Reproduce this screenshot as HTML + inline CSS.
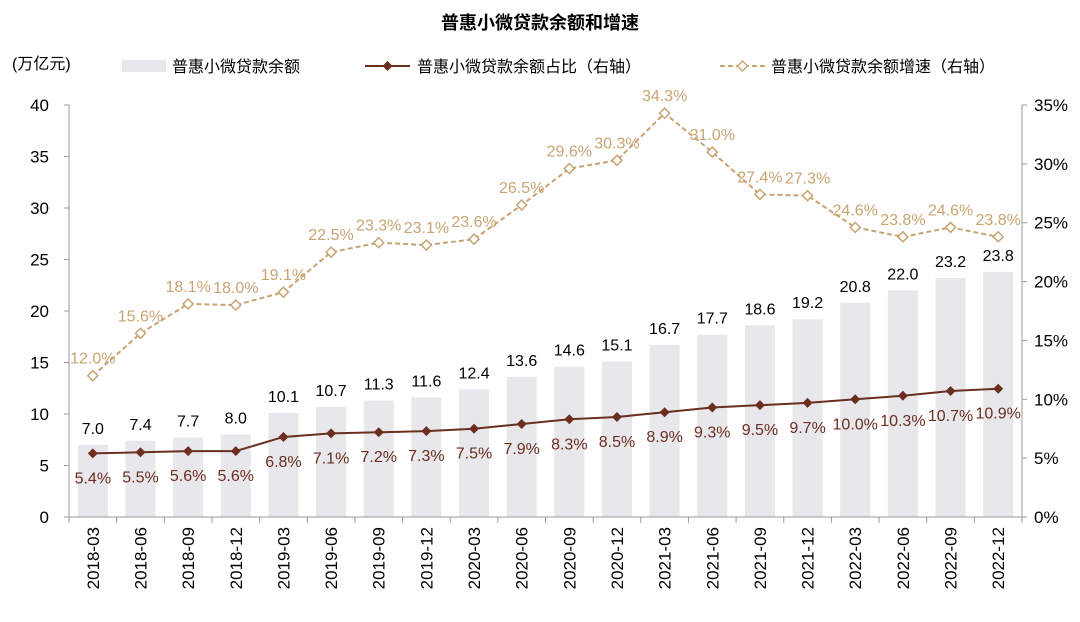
<!DOCTYPE html>
<html><head><meta charset="utf-8"><style>
body{margin:0;background:#fff;font-family:"Liberation Sans","Noto Sans CJK SC",sans-serif;}
svg text{font-family:"Liberation Sans","Noto Sans CJK SC",sans-serif;}
</style></head><body>
<svg id="c" width="1080" height="617" xmlns="http://www.w3.org/2000/svg">
<text x="540" y="29" text-anchor="middle" font-size="18" font-weight="bold" fill="#000">普惠小微贷款余额和增速</text>
<text x="12" y="69" font-size="16" fill="#000">(万亿元)</text>
<g>
<rect x="122" y="60" width="44" height="12" fill="#e7e7ec"/>
<text x="172" y="72" font-size="16">普惠小微贷款余额</text>
<line x1="365" y1="66" x2="410" y2="66" stroke="#6b2e1f" stroke-width="2"/>
<path d="M387.5 61 L392.5 66 L387.5 71 L382.5 66Z" fill="#6b2e1f"/>
<text x="417" y="72" font-size="16">普惠小微贷款余额占比（右轴）</text>
<line x1="720" y1="66" x2="765" y2="66" stroke="#c9a777" stroke-width="2" stroke-dasharray="5,3"/>
<path d="M742.5 61 L747.5 66 L742.5 71 L737.5 66Z" fill="#fff" stroke="#c9a777" stroke-width="1.5"/>
<text x="771" y="72" font-size="16">普惠小微贷款余额增速（右轴）</text>
</g>
<g id="plot"></g>
</svg>
<script>
const categories=["2018-03","2018-06","2018-09","2018-12","2019-03","2019-06","2019-09","2019-12","2020-03","2020-06","2020-09","2020-12","2021-03","2021-06","2021-09","2021-12","2022-03","2022-06","2022-09","2022-12"];
const balance=[7.0,7.4,7.7,8.0,10.1,10.7,11.3,11.6,12.4,13.6,14.6,15.1,16.7,17.7,18.6,19.2,20.8,22.0,23.2,23.8];
const ratio=[5.4,5.5,5.6,5.6,6.8,7.1,7.2,7.3,7.5,7.9,8.3,8.5,8.9,9.3,9.5,9.7,10.0,10.3,10.7,10.9];
const growth=[12.0,15.6,18.1,18.0,19.1,22.5,23.3,23.1,23.6,26.5,29.6,30.3,34.3,31.0,27.4,27.3,24.6,23.8,24.6,23.8];
const leftTicks=[0,5,10,15,20,25,30,35,40];
const rightTicks=[0,5,10,15,20,25,30,35];
const X0=69,X1=1022,Y0=517,Y1=105;
const band=(X1-X0)/categories.length;
const xc=i=>X0+band*(i+0.5);
const yL=v=>Y0-(Y0-Y1)*v/40;
const yR=v=>Y0-(Y0-Y1)*v/35;
const g=document.getElementById('plot');
const NS='http://www.w3.org/2000/svg';
function mk(t,a,txt){const e=document.createElementNS(NS,t);for(const k in a)e.setAttribute(k,a[k]);if(txt!==undefined)e.textContent=txt;g.appendChild(e);return e;}
balance.forEach((v,i)=>{
 const r=mk('rect',{x:xc(i)-15,y:yL(v),width:30,height:Y0-yL(v),fill:'#e7e7ec'});
 
 
 const t=mk('text',{x:xc(i),y:yL(v)-11,'text-anchor':'middle','font-size':16,fill:'#000'},v.toFixed(1));
 
 
});
let a=mk('line',{x1:X0,y1:Y1,x2:X0,y2:Y0,stroke:'#999'});


a=mk('line',{x1:X1,y1:Y1,x2:X1,y2:Y0,stroke:'#999'});


a=mk('line',{x1:X0-5,y1:Y0,x2:X1+5,y2:Y0,stroke:'#999'});


leftTicks.forEach(v=>{
 mk('line',{x1:X0-5,y1:yL(v),x2:X0,y2:yL(v),stroke:'#999'});
 const t=mk('text',{x:49,y:yL(v)+6,'text-anchor':'end','font-size':17},String(v));
 
 
});
rightTicks.forEach(v=>{
 mk('line',{x1:X1,y1:yR(v),x2:X1+5,y2:yR(v),stroke:'#999'});
 const t=mk('text',{x:1034,y:yR(v)+6,'font-size':17},v+'%');
 
 
});
for(let i=0;i<=categories.length;i++){mk('line',{x1:X0+band*i,y1:Y0,x2:X0+band*i,y2:Y0+6,stroke:'#999'});}
categories.forEach((c,i)=>{
 const t=mk('text',{x:0,y:0,'text-anchor':'end','font-size':17,transform:`translate(${xc(i)+6},${Y0+10}) rotate(-90)`},c);
 
 
});
let p=mk('polyline',{points:growth.map((v,i)=>xc(i)+','+yR(v)).join(' '),fill:'none',stroke:'#c8a472','stroke-width':2,'stroke-dasharray':'5,3'});


growth.forEach((v,i)=>{
 const x=xc(i),y=yR(v);
 const m=mk('path',{d:`M${x} ${y-5} L${x+5} ${y} L${x} ${y+5} L${x-5} ${y}Z`,fill:'#fff',stroke:'#c8a472','stroke-width':1.5});
 
 
 const t=mk('text',{x:x,y:y-12,'text-anchor':'middle','font-size':16,fill:'#c8a472'},v.toFixed(1)+'%');
 
 
});
p=mk('polyline',{points:ratio.map((v,i)=>xc(i)+','+yR(v)).join(' '),fill:'none',stroke:'#6b2e1f','stroke-width':2});


ratio.forEach((v,i)=>{
 const x=xc(i),y=yR(v);
 const m=mk('path',{d:`M${x} ${y-5} L${x+5} ${y} L${x} ${y+5} L${x-5} ${y}Z`,fill:'#6b2e1f'});
 
 
 const t=mk('text',{x:x,y:y+30,'text-anchor':'middle','font-size':16,fill:'#6b2e1f'},v.toFixed(1)+'%');
 
 
});
</script>
</body></html>
